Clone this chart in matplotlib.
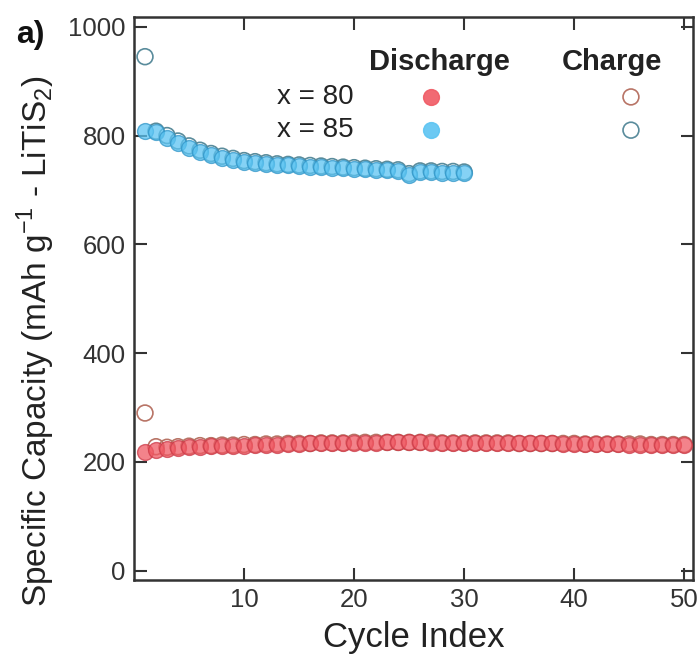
import numpy as np
import matplotlib
matplotlib.use("Agg")
import matplotlib.pyplot as plt

plt.rcParams['font.family'] = ['Liberation Sans', 'DejaVu Sans']

# cycle numbers
cycles_80 = np.arange(1, 51)
cycles_85 = np.arange(1, 31)

# x = 80 (red)
discharge_80 = [218, 222, 224, 226, 227, 228, 229, 229, 230, 230,
                231, 232, 232, 233, 233, 234, 234, 234, 235, 235,
                235, 235, 236, 236, 236, 236, 235, 235, 235, 235,
                235, 235, 235, 234, 234, 234, 234, 234, 233, 233,
                233, 233, 233, 233, 232, 232, 232, 232, 232, 232]
charge_80 = [290, 228, 227, 228, 229, 230, 230, 231, 231, 232,
             232, 233, 233, 234, 234, 234, 235, 235, 235, 236,
             236, 236, 236, 236, 236, 236, 236, 235, 235, 235,
             235, 235, 235, 235, 234, 234, 234, 234, 234, 234,
             233, 233, 233, 233, 233, 233, 232, 232, 232, 232]

# x = 85 (blue)
discharge_85 = [808, 806, 796, 786, 777, 770, 764, 759, 755, 752,
                750, 748, 746, 745, 744, 743, 742, 741, 740, 739,
                738, 737, 736, 735, 728, 733, 733, 732, 732, 731]
charge_85 = [945, 808, 800, 790, 781, 773, 767, 762, 758, 754,
             752, 750, 748, 747, 746, 745, 744, 743, 742, 741,
             740, 739, 738, 737, 730, 735, 735, 734, 734, 733]

red_face, red_edge = '#f05a64', '#cc3a48'
blue_face, blue_edge = '#5cc4f2', '#2f95c8'
red_open, blue_open = '#b87466', '#5a8c9c'

fig = plt.figure(figsize=(6.99, 6.66), dpi=100)
ax = fig.add_axes([0.1917, 0.1291, 0.7997, 0.8454])

ms = 130
ax.scatter(cycles_80, charge_80, s=ms, facecolors='none', edgecolors=red_open, linewidths=1.2, zorder=2)
ax.scatter(cycles_80, discharge_80, s=ms, color=red_face, edgecolors=red_edge, linewidths=1.0, alpha=0.75, zorder=3)
ax.scatter(cycles_85, charge_85, s=ms, facecolors='none', edgecolors=blue_open, linewidths=1.2, zorder=2)
ax.scatter(cycles_85, discharge_85, s=ms, color=blue_face, edgecolors=blue_edge, linewidths=1.0, alpha=0.75, zorder=3)

ax.set_xlim(0, 50.8)
ax.set_ylim(-17, 1018)
ax.set_xticks([10, 20, 30, 40, 50])
ax.set_yticks([0, 200, 400, 600, 800, 1000])
ax.tick_params(direction='in', length=9, width=1.5, labelsize=18.5, top=True, right=True,
               colors='#333333', labelcolor='#333333', pad=6)
for sp in ax.spines.values():
    sp.set_linewidth(1.8)
    sp.set_color('#333333')

ax.set_xlabel('Cycle Index', fontsize=25, color='#222222', labelpad=6)
ax.set_ylabel('Specific Capacity (mAh g$^{\\mathregular{-1}}$ - LiTiS$_{\\mathregular{2}}$)',
              fontsize=24, color='#222222')
ax.yaxis.set_label_coords(-0.137, 0.425)

# legend drawn as text + markers
ax.text(0.547, 0.92, 'Discharge', transform=ax.transAxes, ha='center', va='center',
        fontsize=21, fontweight='bold', color='#222222')
ax.text(0.855, 0.92, 'Charge', transform=ax.transAxes, ha='center', va='center',
        fontsize=21, fontweight='bold', color='#222222')
ax.text(0.324, 0.858, 'x = 80', transform=ax.transAxes, ha='center', va='center',
        fontsize=20, color='#222222')
ax.text(0.324, 0.799, 'x = 85', transform=ax.transAxes, ha='center', va='center',
        fontsize=20, color='#222222')
ax.scatter([0.531], [0.858], s=ms, color=red_face, alpha=0.9, transform=ax.transAxes)
ax.scatter([0.531], [0.799], s=ms, color=blue_face, alpha=0.9, transform=ax.transAxes)
ax.scatter([0.889], [0.858], s=ms, facecolors='none', edgecolors=red_open, linewidths=1.2, transform=ax.transAxes)
ax.scatter([0.889], [0.799], s=ms, facecolors='none', edgecolors=blue_open, linewidths=1.2, transform=ax.transAxes)

fig.text(0.043, 0.947, 'a)', fontsize=23, fontweight='bold', ha='center', va='center', color='#111111')

fig.savefig('out.png', dpi=100)
